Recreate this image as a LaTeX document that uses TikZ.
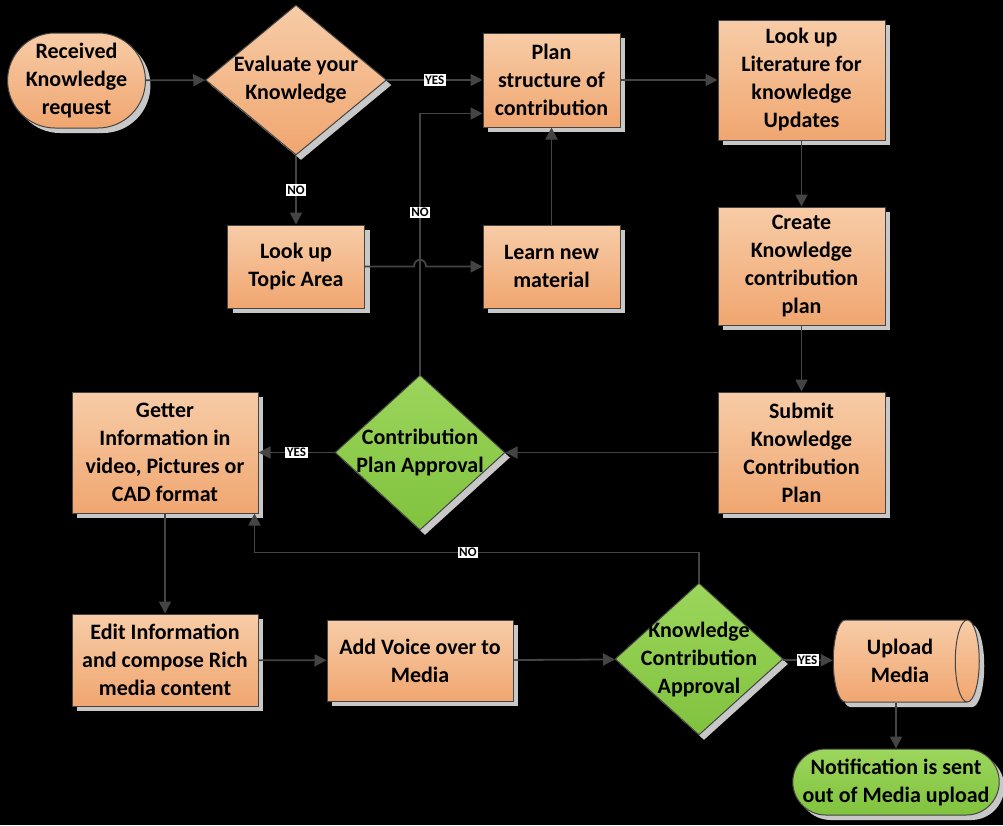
\documentclass[tikz,border=0pt]{standalone}
\usepackage{fontspec}
\setmainfont{Carlito}
\usetikzlibrary{shapes.geometric,shapes.misc,shadows,arrows.meta}

\definecolor{boxTop}{RGB}{247,204,167}
\definecolor{boxBottom}{RGB}{240,166,112}
\definecolor{greenTop}{RGB}{156,214,92}
\definecolor{greenBottom}{RGB}{128,194,62}
\definecolor{lineGray}{RGB}{68,68,68}
\definecolor{shadowGray}{RGB}{200,200,200}

\tikzset{
    flow/.style={draw=lineGray, line width=1pt, inner sep=0pt, align=center,
        font=\fontsize{22}{28}\selectfont\bfseries,
        drop shadow={shadow xshift=5pt, shadow yshift=-5pt, fill=shadowGray, opacity=1}},
    task/.style={flow, rectangle, top color=boxTop, bottom color=boxBottom},
    terminal/.style={flow, rounded rectangle, top color=boxTop, bottom color=boxBottom},
    finish/.style={flow, rounded rectangle, top color=greenTop, bottom color=greenBottom},
    storage/.style={flow, cylinder, shape border rotate=0, aspect=0.55, top color=boxTop, bottom color=boxBottom},
    decision/.style={flow, diamond, top color=greenTop, bottom color=greenBottom},
    question/.style={flow, diamond, top color=boxTop, bottom color=boxBottom},
    inside/.style={align=center, font=\fontsize{22}{28}\selectfont\bfseries},
    answer/.style={fill=white, text=black, inner sep=1.5pt, font=\fontsize{13}{14}\selectfont\bfseries},
    link/.style={draw=lineGray, line width=1.8pt, -{Triangle[length=12pt, width=12pt]}}
}

\begin{document}
\begin{tikzpicture}[x=1pt, y=-1pt]

    % Background
    \fill[black] (0,0) rectangle (1003,825);
    \useasboundingbox (0,0) rectangle (1003,825);

    % Top row
    \node[terminal, minimum width=137pt, minimum height=95pt] (received) at (76.5,80.5) {Received\\Knowledge\\request};
    \node[question, minimum width=181pt, minimum height=150pt,
        label={[inside]center:Evaluate your\\Knowledge}] (evaluate) at (296,80) {};
    \node[task, minimum width=137pt, minimum height=94pt] (plan) at (551.5,80) {Plan\\structure of\\contribution};
    \node[task, minimum width=167pt, minimum height=120pt] (literature) at (801.5,80) {Look up\\Literature for\\knowledge\\Updates};

    % Second row
    \node[task, minimum width=137pt, minimum height=83pt] (topic) at (296,266.5) {Look up\\Topic Area};
    \node[task, minimum width=137pt, minimum height=83pt] (learn) at (551.5,266.5) {Learn new\\material};
    \node[task, minimum width=167pt, minimum height=118pt] (create) at (801.5,266) {Create\\Knowledge\\contribution\\plan};

    % Third row
    \node[task, minimum width=186pt, minimum height=121pt] (getter) at (165,452.5) {Getter\\Information in\\video, Pictures or\\CAD format};
    \node[decision, minimum width=170pt, minimum height=155pt,
        label={[inside]center:Contribution\\Plan Approval}] (planapproval) at (420,452.5) {};
    \node[task, minimum width=167pt, minimum height=121pt] (submit) at (801.5,452.5) {Submit\\Knowledge\\Contribution\\Plan};

    % Bottom row
    \node[task, minimum width=186pt, minimum height=92pt] (edit) at (165,660) {Edit Information\\and compose Rich\\media content};
    \node[task, minimum width=186pt, minimum height=81pt] (voice) at (420,660.5) {Add Voice over to\\Media};
    \node[decision, minimum width=168pt, minimum height=152pt,
        label={[inside]center:Knowledge\\Contribution\\Approval}] (knowapproval) at (699,659) {};
    \node[storage, minimum width=82pt, minimum height=146pt] (upload) at (900,661) {Upload\\Media};
    \node[finish, minimum width=205pt, minimum height=66pt] (notify) at (896,782) {Notification is sent\\out of Media upload};

    % Connectors
    \draw[link] (received) -- (evaluate);
    \draw[link] (evaluate) -- node[answer] {YES} (plan);
    \draw[link] (evaluate) -- node[answer] {NO} (topic);
    \draw[link] (topic.east) -- ([xshift=-6pt]topic.east -| planapproval.north)
        .. controls +(0,-9) and +(0,-9) .. ([xshift=6pt]topic.east -| planapproval.north) -- (learn.west);
    \draw[link] (learn) -- (plan);
    \draw[link] (plan) -- (literature);
    \draw[link] (literature) -- (create);
    \draw[link] (create) -- (submit);
    \draw[link] (submit) -- (planapproval);
    \draw[link] (planapproval) -- node[answer] {YES} (getter);
    \draw[link] (planapproval.north) |- node[answer, pos=0.31] {NO} ([yshift=14pt]plan.south west);
    \draw[link] (getter) -- (edit);
    \draw[link] (edit) -- (voice);
    \draw[link] (voice) -- (knowapproval);
    \draw[link] (knowapproval.north) -- ++(0,-30) -| node[answer, pos=0.26] {NO} ([xshift=-4pt]getter.south east);
    \draw[link] (knowapproval) -- node[answer] {YES} (upload);
    \draw[link] (upload.south -| notify.north) -- (notify.north);

\end{tikzpicture}
\end{document}
